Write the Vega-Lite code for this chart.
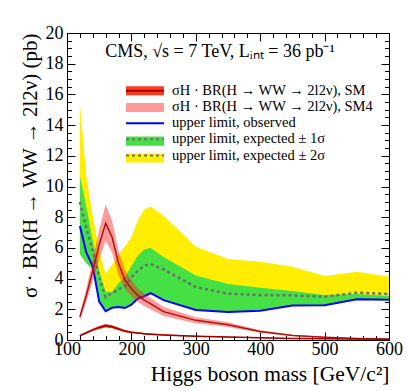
{
  "$schema": "https://vega.github.io/schema/vega-lite/v6.json",
  "width": 322,
  "height": 307,
  "autosize": {"type": "none"},
  "padding": {"left": 67, "top": 33, "right": 18, "bottom": 51},
  "background": "white",
  "config": {
    "font": "Liberation Serif",
    "view": {"stroke": "black", "strokeWidth": 1},
    "axis": {"grid": false, "domain": false, "tickColor": "black", "labelColor": "black", "titleColor": "black", "labelFont": "Liberation Serif", "titleFont": "Liberation Serif", "titleFontWeight": "normal", "labelFlush": false, "labelOverlap": false}
  },
  "title": {"text": "CMS,  √s = 7 TeV, Lᵢₙₜ = 36 pb⁻¹", "font": "Liberation Serif", "fontSize": 18, "fontWeight": "normal", "color": "black", "anchor": "middle", "frame": "group", "offset": -37, "dx": -8},
  "data": {"values": [
    {"m": 120, "obs": 7.43, "exp": 9.0, "g_hi": 10.7, "y_hi": 15.4, "lo": 5.6, "sm4": 1.5, "sm4_lo": 1.28, "sm4_hi": 1.74, "sm": 0.28, "sm_lo": 0.25, "sm_hi": 0.31},
    {"m": 130, "obs": 5.7, "exp": 7.3, "g_hi": 8.7, "y_hi": 10.7, "lo": 5.0, "sm4": 2.9, "sm4_lo": 2.47, "sm4_hi": 3.36, "sm": 0.47, "sm_lo": 0.41, "sm_hi": 0.53},
    {"m": 140, "obs": 4.8, "exp": 5.8, "g_hi": 6.5, "y_hi": 8.1, "lo": 4.6, "sm4": 4.5, "sm4_lo": 3.83, "sm4_hi": 5.22, "sm": 0.66, "sm_lo": 0.58, "sm_hi": 0.74},
    {"m": 150, "obs": 2.5, "exp": 4.1, "g_hi": 4.5, "y_hi": 5.8, "lo": 2.5, "sm4": 6.2, "sm4_lo": 5.27, "sm4_hi": 7.19, "sm": 0.82, "sm_lo": 0.72, "sm_hi": 0.92},
    {"m": 160, "obs": 1.87, "exp": 2.8, "g_hi": 3.15, "y_hi": 4.3, "lo": 1.87, "sm4": 7.6, "sm4_lo": 6.46, "sm4_hi": 8.82, "sm": 0.93, "sm_lo": 0.82, "sm_hi": 1.04},
    {"m": 170, "obs": 2.1, "exp": 3.05, "g_hi": 3.15, "y_hi": 4.9, "lo": 2.1, "sm4": 6.7, "sm4_lo": 5.7, "sm4_hi": 7.77, "sm": 0.86, "sm_lo": 0.76, "sm_hi": 0.96},
    {"m": 180, "obs": 2.15, "exp": 3.3, "g_hi": 3.7, "y_hi": 5.5, "lo": 2.15, "sm4": 5.0, "sm4_lo": 4.25, "sm4_hi": 5.8, "sm": 0.72, "sm_lo": 0.63, "sm_hi": 0.81},
    {"m": 190, "obs": 2.08, "exp": 3.5, "g_hi": 4.1, "y_hi": 6.1, "lo": 2.08, "sm4": 3.9, "sm4_lo": 3.32, "sm4_hi": 4.52, "sm": 0.58, "sm_lo": 0.51, "sm_hi": 0.65},
    {"m": 200, "obs": 2.3, "exp": 4.1, "g_hi": 4.8, "y_hi": 6.7, "lo": 2.3, "sm4": 3.35, "sm4_lo": 2.85, "sm4_hi": 3.89, "sm": 0.5, "sm_lo": 0.44, "sm_hi": 0.56},
    {"m": 210, "obs": 2.7, "exp": 4.5, "g_hi": 5.5, "y_hi": 7.8, "lo": 2.7, "sm4": 2.9, "sm4_lo": 2.47, "sm4_hi": 3.36, "sm": 0.45, "sm_lo": 0.4, "sm_hi": 0.5},
    {"m": 220, "obs": 2.85, "exp": 4.85, "g_hi": 5.9, "y_hi": 8.5, "lo": 2.85, "sm4": 2.6, "sm4_lo": 2.21, "sm4_hi": 3.02, "sm": 0.41, "sm_lo": 0.36, "sm_hi": 0.46},
    {"m": 230, "obs": 3.05, "exp": 4.95, "g_hi": 6.0, "y_hi": 8.7, "lo": 3.05, "sm4": 2.35, "sm4_lo": 2.0, "sm4_hi": 2.73, "sm": 0.38, "sm_lo": 0.33, "sm_hi": 0.43},
    {"m": 250, "obs": 2.6, "exp": 4.6, "g_hi": 5.4, "y_hi": 8.1, "lo": 2.6, "sm4": 1.85, "sm4_lo": 1.57, "sm4_hi": 2.15, "sm": 0.33, "sm_lo": 0.29, "sm_hi": 0.37},
    {"m": 300, "obs": 1.95, "exp": 3.45, "g_hi": 4.2, "y_hi": 6.08, "lo": 1.95, "sm4": 1.28, "sm4_lo": 1.09, "sm4_hi": 1.48, "sm": 0.24, "sm_lo": 0.21, "sm_hi": 0.27},
    {"m": 350, "obs": 1.82, "exp": 3.02, "g_hi": 3.65, "y_hi": 5.28, "lo": 1.82, "sm4": 1.0, "sm4_lo": 0.85, "sm4_hi": 1.16, "sm": 0.19, "sm_lo": 0.17, "sm_hi": 0.21},
    {"m": 400, "obs": 1.9, "exp": 2.93, "g_hi": 3.41, "y_hi": 5.1, "lo": 1.9, "sm4": 0.55, "sm4_lo": 0.47, "sm4_hi": 0.64, "sm": 0.14, "sm_lo": 0.12, "sm_hi": 0.16},
    {"m": 450, "obs": 2.24, "exp": 2.91, "g_hi": 3.19, "y_hi": 4.78, "lo": 2.24, "sm4": 0.3, "sm4_lo": 0.26, "sm4_hi": 0.35, "sm": 0.1, "sm_lo": 0.09, "sm_hi": 0.11},
    {"m": 500, "obs": 2.27, "exp": 2.82, "g_hi": 2.93, "y_hi": 4.17, "lo": 2.27, "sm4": 0.18, "sm4_lo": 0.15, "sm4_hi": 0.21, "sm": 0.08, "sm_lo": 0.07, "sm_hi": 0.09},
    {"m": 550, "obs": 2.65, "exp": 3.08, "g_hi": 3.0, "y_hi": 4.45, "lo": 2.65, "sm4": 0.1, "sm4_lo": 0.085, "sm4_hi": 0.116, "sm": 0.06, "sm_lo": 0.05, "sm_hi": 0.07},
    {"m": 600, "obs": 2.63, "exp": 3.0, "g_hi": 2.87, "y_hi": 4.12, "lo": 2.63, "sm4": 0.05, "sm4_lo": 0.043, "sm4_hi": 0.058, "sm": 0.05, "sm_lo": 0.044, "sm_hi": 0.056}
  ]},
  "resolve": {"axis": {"x": "independent", "y": "independent"}},
  "layer": [
    {
      "mark": {"type": "area", "interpolate": "linear"},
      "encoding": {
        "x": {"field": "m", "type": "quantitative", "scale": {"domain": [100, 600], "nice": false, "zero": false},
          "axis": {"orient": "bottom", "values": [100, 200, 300, 400, 500, 600], "tickSize": -8, "labelPadding": 8, "labelFontSize": 18, "title": "Higgs boson mass [GeV/c²]", "titleFontSize": 21.5, "titleAnchor": "end", "titleBaseline": "alphabetic", "titleY": 40}},
        "y": {"field": "lo", "type": "quantitative", "scale": {"domain": [0, 20], "nice": false, "zero": false},
          "axis": {"orient": "left", "values": [0, 2, 4, 6, 8, 10, 12, 14, 16, 18, 20], "tickSize": -8, "labelPadding": 12, "labelFontSize": 18, "title": "σ · BR(H → WW → 2l2ν) (pb)", "titleFontSize": 21, "titleAnchor": "end", "titlePadding": 5}},
        "y2": {"field": "y_hi"},
        "fill": {"datum": "exp2", "type": "nominal",
          "scale": {"domain": ["SM", "SM4", "obs", "exp1", "exp2"], "range": ["#ff3b1f", "#ff2020", "rgba(255,255,255,0)", "#44e044", "#ffee00"]},
          "legend": {"orient": "none", "legendX": 59, "legendY": 50.5, "title": null, "padding": 0, "symbolType": "M-3.8,-0.91H3.8V0.91H-3.8Z", "symbolSize": 100, "symbolStrokeWidth": 0, "symbolOffset": 11.75, "labelFontSize": 14.5, "labelExpr": "''", "rowPadding": 1.8,
            "encode": {"symbols": {"update": {"fillOpacity": [{"test": "datum.value === 'SM4'", "value": 0.45}, {"value": 1}]}}}}}
      }
    },
    {
      "mark": {"type": "area", "interpolate": "linear"},
      "encoding": {
        "x": {"field": "m", "type": "quantitative", "axis": {"orient": "bottom", "values": [100,120,140,160,180,200,220,240,260,280,300,320,340,360,380,400,420,440,460,480,500,520,540,560,580,600], "tickSize": -4.5, "labels": false, "title": null}},
        "y": {"field": "lo", "type": "quantitative", "axis": {"orient": "left", "values": [0,0.5,1,1.5,2,2.5,3,3.5,4,4.5,5,5.5,6,6.5,7,7.5,8,8.5,9,9.5,10,10.5,11,11.5,12,12.5,13,13.5,14,14.5,15,15.5,16,16.5,17,17.5,18,18.5,19,19.5,20], "tickSize": -4.5, "labels": false, "title": null}},
        "y2": {"field": "g_hi"},
        "fill": {"datum": "exp1", "type": "nominal"}
      }
    },
    {
      "mark": {"type": "line", "strokeWidth": 2.5, "strokeDash": [3, 3]},
      "encoding": {
        "x": {"field": "m", "type": "quantitative", "axis": {"orient": "top", "values": [100, 200, 300, 400, 500, 600], "tickSize": -8, "labels": false, "title": null}},
        "y": {"field": "exp", "type": "quantitative", "axis": {"orient": "right", "values": [0, 2, 4, 6, 8, 10, 12, 14, 16, 18, 20], "tickSize": -8, "labels": false, "title": null}},
        "stroke": {"datum": "upper limit, expected ± 1σ", "type": "nominal",
          "scale": {"domain": ["σH · BR(H → WW → 2l2ν), SM", "σH · BR(H → WW → 2l2ν), SM4", "upper limit, observed", "upper limit, expected ± 1σ", "upper limit, expected ± 2σ"], "range": ["#a00000", "rgba(255,255,255,0)", "#0000ff", "#6e6e6e", "#6e6e6e"]},
          "legend": {"orient": "none", "legendX": 59, "legendY": 50.5, "title": null, "padding": 0, "symbolType": "M-3.8,0H3.8", "symbolSize": 100, "symbolStrokeWidth": 2, "symbolOffset": 11.75, "labelOffset": 19.75, "labelLimit": 400, "labelFont": "Liberation Serif", "labelFontSize": 14.5, "labelColor": "black", "rowPadding": 1.2,
            "encode": {"symbols": {"update": {"strokeDash": [{"test": "indexof(datum.value, 'expected') >= 0", "value": [3, 3]}, {"value": []}]}}}}}
      }
    },
    {
      "mark": {"type": "line", "strokeWidth": 2},
      "encoding": {
        "x": {"field": "m", "type": "quantitative", "axis": {"orient": "top", "values": [100,120,140,160,180,200,220,240,260,280,300,320,340,360,380,400,420,440,460,480,500,520,540,560,580,600], "tickSize": -4.5, "labels": false, "title": null}},
        "y": {"field": "obs", "type": "quantitative", "axis": {"orient": "right", "values": [0,0.5,1,1.5,2,2.5,3,3.5,4,4.5,5,5.5,6,6.5,7,7.5,8,8.5,9,9.5,10,10.5,11,11.5,12,12.5,13,13.5,14,14.5,15,15.5,16,16.5,17,17.5,18,18.5,19,19.5,20], "tickSize": -4.5, "labels": false, "title": null}},
        "stroke": {"datum": "upper limit, observed", "type": "nominal"}
      }
    },
    {
      "mark": {"type": "area", "fillOpacity": 0.45},
      "encoding": {
        "x": {"field": "m", "type": "quantitative", "axis": null},
        "y": {"field": "sm4_lo", "type": "quantitative", "axis": null},
        "y2": {"field": "sm4_hi"},
        "fill": {"datum": "SM4", "type": "nominal"}
      }
    },
    {
      "mark": {"type": "line", "strokeWidth": 1.5, "color": "#b01010"},
      "encoding": {
        "x": {"field": "m", "type": "quantitative", "axis": null},
        "y": {"field": "sm4", "type": "quantitative", "axis": null}
      }
    },
    {
      "mark": {"type": "area"},
      "encoding": {
        "x": {"field": "m", "type": "quantitative", "axis": null},
        "y": {"field": "sm_lo", "type": "quantitative", "axis": null},
        "y2": {"field": "sm_hi"},
        "fill": {"datum": "SM", "type": "nominal"}
      }
    },
    {
      "mark": {"type": "line", "strokeWidth": 1.5},
      "encoding": {
        "x": {"field": "m", "type": "quantitative", "axis": null},
        "y": {"field": "sm", "type": "quantitative", "axis": null},
        "stroke": {"datum": "σH · BR(H → WW → 2l2ν), SM", "type": "nominal"}
      }
    }
  ]
}
